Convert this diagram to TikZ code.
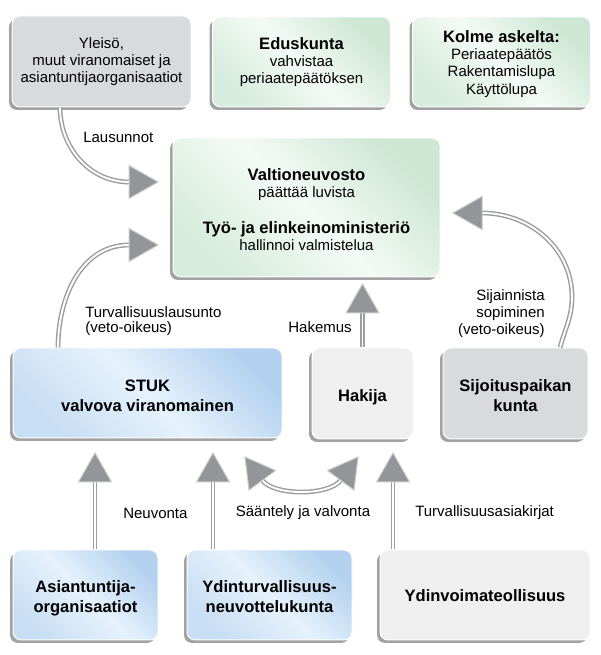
\documentclass[tikz,border=0pt]{standalone}
\usepackage{fontspec}
\setmainfont{Liberation Sans}
\usetikzlibrary{shadows}
\definecolor{shadowgray}{HTML}{A2A2A2}
\definecolor{grayA}{HTML}{D9DADC}
\definecolor{grayL}{HTML}{EFEFEF}
\definecolor{grA}{HTML}{CDE7D4}
\definecolor{grB}{HTML}{F4FAF6}
\definecolor{grC}{HTML}{D6ECDC}
\definecolor{blA}{HTML}{B4D2EF}
\definecolor{blB}{HTML}{E6F2FC}
\definecolor{blC}{HTML}{C8DEF4}
\definecolor{headfill}{HTML}{939598}
\definecolor{headline}{HTML}{C9CACC}
\definecolor{shaftgray}{HTML}{9C9EA1}
\pgfdeclarehorizontalshading{greensh}{100bp}{color(0bp)=(grC); color(25bp)=(grC); color(50bp)=(grB); color(75bp)=(grA); color(100bp)=(grA)}
\pgfdeclarehorizontalshading{bluesh}{100bp}{color(0bp)=(blC); color(25bp)=(blC); color(50bp)=(blB); color(75bp)=(blA); color(100bp)=(blA)}
\newcommand\regf{\fontsize{11.25pt}{12.75pt}\selectfont}
\newcommand\bldf{\fontsize{12.4pt}{15pt}\selectfont\bfseries}
\newcommand\hb[1]{{\fontsize{12.4pt}{12.75pt}\selectfont\bfseries #1}}
\newcommand\dn[2]{\raisebox{-#1}[\height][\depth]{\begin{tabular}{@{}c@{}}#2\end{tabular}}}
\newcommand\ahd[2]{\filldraw[headst, shift={(#1)}, rotate=#2] (0,0) -- (-29,16.5) -- (-29,-16.5) -- cycle;}
\begin{document}
\begin{tikzpicture}[x=0.75pt,y=0.75pt,
  nbox/.style={rounded corners=6pt, draw=white, line width=0.75pt, align=center, inner sep=0pt,
    drop shadow={shadow xshift=-2.25pt, shadow yshift=-2.25pt, fill=shadowgray, opacity=1}},
  sz/.style 2 args={minimum width={#1*0.75pt}, minimum height={#2*0.75pt}},
  graybox/.style={nbox, fill=grayA},
  lightbox/.style={nbox, fill=grayL},
  greenbox/.style={nbox, shading=greensh, shading angle=45},
  bluebox/.style={nbox, shading=bluesh, shading angle=45},
  shaft/.style={draw=shaftgray, line width=1.1pt, double=white, double distance=1.4pt},
  headst/.style={fill=headfill, draw=headline, line width=0.75pt, line join=miter},
  lbl/.style={font=\regf, inner sep=0pt}]
\useasboundingbox (0,0) rectangle (600,655);
\fill[white] (0,0) rectangle (600,655);

% boxes
\node[graybox, sz={179}{91}, font=\regf] (yleiso) at (101.5,593.5)
  {Yleisö,\\muut viranomaiset ja\\asiantuntijaorganisaatiot};
\node[greenbox, sz={178}{90}, font=\regf] (eduskunta) at (301.5,593)
  {\dn{0.75pt}{\hb{Eduskunta}\\vahvistaa\\periaatepäätöksen}};
\node[greenbox, sz={178}{90}, font=\regf] (kolme) at (501.5,593)
  {\dn{2.2pt}{\hb{Kolme askelta:}\\Periaatepäätös\\[0.3pt]Rakentamislupa\\[0.3pt]Käyttölupa}};
\node[greenbox, sz={267}{139}, font=\regf] (valtio) at (306.5,447.5)
  {\dn{3.75pt}{\hb{Valtioneuvosto}\\päättää luvista\\[14.25pt]\hb{Työ- ja elinkeinoministeriö}\\hallinnoi valmistelua}};
\node[bluebox, sz={269}{90}, font=\bldf] (stuk) at (147.5,262)
  {\dn{3.2pt}{STUK\\valvova viranomainen}};
\node[lightbox, sz={101}{91}, font=\bldf] (hakija) at (362.5,261.5) {\dn{3pt}{Hakija}};
\node[graybox, sz={145}{91}, font=\bldf] (kunta) at (515.5,261.5)
  {\dn{3pt}{Sijoituspaikan\\kunta}};
\node[bluebox, sz={145}{90}, font=\bldf] (asiant) at (85.5,60)
  {\dn{2.6pt}{Asiantuntija-\\organisaatiot}};
\node[bluebox, sz={165}{90}, font=\bldf] (ydturv) at (269.5,60)
  {\dn{2.6pt}{Ydinturvallisuus-\\neuvottelukunta}};
\node[lightbox, sz={210}{90}, font=\bldf] (ydvoima) at (485,60)
  {\dn{2pt}{Ydinvoimateollisuus}};

% arrow head coordinates
\coordinate (h1t) at (158,473); \coordinate (h1b) at (129,473);
\coordinate (h2t) at (158,410); \coordinate (h2b) at (129,410);
\coordinate (h3t) at (362.5,371); \coordinate (h3b) at (362.5,342);
\coordinate (h4t) at (453,442); \coordinate (h4b) at (482,442);
\coordinate (h5t) at (95,202); \coordinate (h5b) at (95,173);
\coordinate (h6t) at (213,202); \coordinate (h6b) at (213,173);
\coordinate (h7t) at (393,202); \coordinate (h7b) at (393,173);
\coordinate (h8lt) at (245,198); \coordinate (h8lb) at (262,175);
\coordinate (h8rt) at (358,198); \coordinate (h8rb) at (341,175);

% shafts
\draw[shaft] ([xshift=-31.125pt]yleiso.south) to[out=-90,in=180] (h1b);
\draw[shaft] ([xshift=-67.125pt]stuk.north) to[out=90,in=180] (h2b);
\draw[shaft] (hakija.north) -- (h3b);
\draw[shaft] ([xshift=33.375pt]kunta.north) to[out=75,in=-90] (572,358) to[out=90,in=0] (h4b);
\draw[shaft] ([xshift=7.125pt]asiant.north) -- (h5b);
\draw[shaft] ([xshift=-42.375pt]ydturv.north) -- (h6b);
\draw[shaft] ([xshift=-69pt]ydvoima.north) -- (h7b);
\draw[shaft] (h8lb) to[out=-53.5,in=-126.5,looseness=0.65] (h8rb);

% heads
\ahd{h1t}{0}
\ahd{h2t}{0}
\ahd{h3t}{90}
\ahd{h4t}{180}
\ahd{h5t}{90}
\ahd{h6t}{90}
\ahd{h7t}{90}
\ahd{h8lt}{126.5}
\ahd{h8rt}{53.5}

% labels
\node[lbl, anchor=west] (lLaus) at (83,518) {Lausunnot};
\node[lbl, anchor=west, align=left, font={\fontsize{11.25pt}{11.25pt}\selectfont}] (lTurv) at (85,334)
  {Turvallisuuslausunto\\(veto-oikeus)};
\node[lbl, anchor=east] (lHak) at (352,328) {Hakemus};
\node[lbl, anchor=east, align=right] (lSij) at (545,341.5)
  {Sijainnista\\sopiminen\\(veto-oikeus)};
\node[lbl, anchor=west] (lNeuv) at (123,142) {Neuvonta};
\node[lbl] (lSaant) at (303,142) {Sääntely ja valvonta};
\node[lbl, anchor=west] (lTurvak) at (415,142) {Turvallisuusasiakirjat};
\end{tikzpicture}
\end{document}
